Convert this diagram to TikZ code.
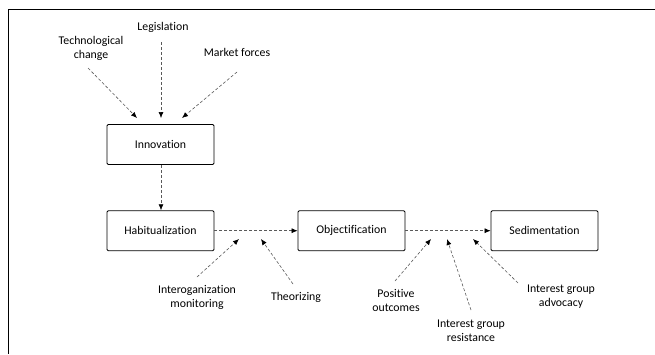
\documentclass[tikz,border=0pt]{standalone}
\usepackage{fontspec}
\setmainfont[Ligatures=NoCommon]{Carlito}
\usetikzlibrary{arrows.meta}
\begin{document}
\begin{tikzpicture}[x=1pt,y=-1pt,
  font=\fontsize{11.8}{14}\selectfont,
  stage/.style={draw=black,line width=0.9pt,rounded corners=1.2pt,minimum width=107pt,minimum height=40pt,inner sep=0pt},
  factor/.style={align=center,inner sep=0pt},
  flow/.style={draw=black!65,line width=0.6pt,dash pattern=on 3pt off 2pt,-{Latex[length=6pt,width=5pt,black]}}]
\useasboundingbox (0,0) rectangle (655,354);
% frame
\draw[line width=1.1pt] (655,9.3) -- (8.3,9.3) -- (8.3,354);
% stages
\node[stage] (inn) at (160.5,144.5) {Innovation};
\node[stage] (hab) at (160.5,230.7) {Habitualization};
\node[stage] (obj) at (351.5,230.7) {Objectification};
\node[stage] (sed) at (544.5,230.7) {Sedimentation};
% driving factors
\node[factor] (tech) at (91,48.5) {Technological\\change};
\node[factor] (leg) at (163,27) {Legislation};
\node[factor] (mkt) at (237,52) {Market forces};
\node[factor] (mon) at (197,297) {Interoganization\\monitoring};
\node[factor] (theo) at (296,297) {Theorizing};
\node[factor] (pos) at (396,300.5) {Positive\\outcomes};
\node[factor] (res) at (471,330.5) {Interest group\\resistance};
\node[factor] (adv) at (561,297) {Interest group\\advocacy};
% connector end points
\coordinate (techS) at (88,68);
\coordinate (techE) at (137,118);
\coordinate (legS) at (161,42);
\coordinate (legE) at (161,118);
\coordinate (mktS) at (237,72);
\coordinate (mktE) at (182,118);
\coordinate (monS) at (197,277);
\coordinate (monE) at (239,239);
\coordinate (theoS) at (293,284);
\coordinate (theoE) at (261,239);
\coordinate (posS) at (395,281);
\coordinate (posE) at (431,239);
\coordinate (resS) at (471,310);
\coordinate (resE) at (447,239);
\coordinate (advS) at (518,283);
\coordinate (advE) at (473,239);
% connectors
\draw[flow] (techS) -- (techE);
\draw[flow] (legS) -- (legE);
\draw[flow] (mktS) -- (mktE);
\draw[flow] (inn.south -| legS) -- (hab.north -| legS);
\draw[flow] (hab.east) -- (obj.west);
\draw[flow] (obj.east) -- (sed.west);
\draw[flow] (monS) -- (monE);
\draw[flow] (theoS) -- (theoE);
\draw[flow] (posS) -- (posE);
\draw[flow] (resS) -- (resE);
\draw[flow] (advS) -- (advE);
\end{tikzpicture}
\end{document}
